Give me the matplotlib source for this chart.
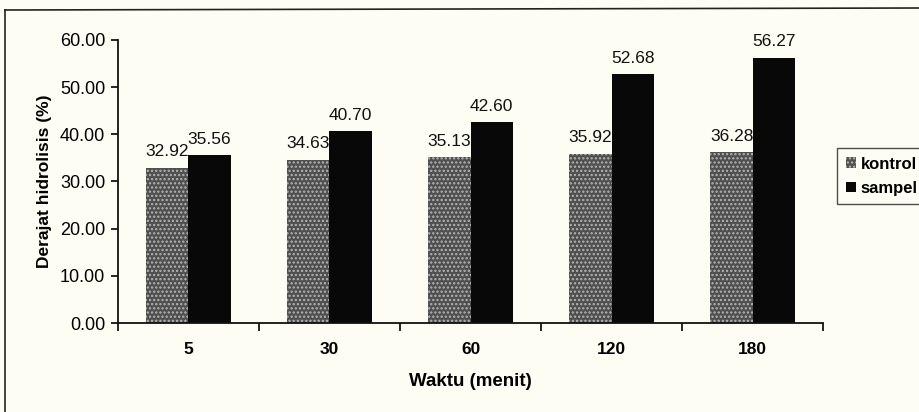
import matplotlib.pyplot as plt
import numpy as np
from matplotlib.lines import Line2D

plt.rcParams['font.family'] = ['Liberation Sans', 'DejaVu Sans']
plt.rcParams['hatch.linewidth'] = 1.1

waktu = ['5', '30', '60', '120', '180']
kontrol = [32.92, 34.63, 35.13, 35.92, 36.28]
sampel = [35.56, 40.70, 42.60, 52.68, 56.27]

bg = '#fdfdf3'
fig = plt.figure(figsize=(9.2, 4.12), dpi=100, facecolor=bg)
ax = fig.add_axes([0.128, 0.216, 0.767, 0.687])
ax.set_facecolor(bg)

x = np.arange(len(waktu))
w = 0.30
b1 = ax.bar(x - w / 2, kontrol, w, color='#4f4f4f', edgecolor='#b4b4b4',
            hatch='....', linewidth=0, label='kontrol')
b2 = ax.bar(x + w / 2, sampel, w, color='#080808', linewidth=0, label='sampel')

for bars, vals in ((b1, kontrol), (b2, sampel)):
    for r, v in zip(bars, vals):
        ax.annotate(f'{v:.2f}', (r.get_x() + r.get_width() / 2, v),
                    xytext=(0, 6), textcoords='offset points',
                    ha='center', va='bottom', fontsize=12.5, color='#111111')

ax.set_ylim(0, 60)
ax.set_xlim(-0.5, len(waktu) - 0.5)
ax.set_yticks(np.arange(0, 61, 10))
ax.set_yticklabels([f'{t:.2f}' for t in np.arange(0, 61, 10)], fontsize=13)
ax.set_xticks(np.arange(-0.5, len(waktu)), labels=[''] * (len(waktu) + 1))
ax.set_xticks(x, labels=waktu, minor=True)
ax.tick_params(axis='x', which='major', length=6, width=1.2, direction='out')
ax.tick_params(axis='x', which='minor', length=0, pad=14, labelsize=12.5)
ax.tick_params(axis='y', length=5, width=1.2, direction='out', pad=4)
for t in ax.get_xticklabels(minor=True):
    t.set_fontweight('bold')

for s in ('top', 'right'):
    ax.spines[s].set_visible(False)
for s in ('left', 'bottom'):
    ax.spines[s].set_linewidth(1.3)
    ax.spines[s].set_color('#111111')

ax.set_ylabel('Derajat hidrolisis (%)', fontsize=12.5, fontweight='bold', labelpad=6)
ax.set_xlabel('Waktu (menit)', fontsize=13.5, fontweight='bold', labelpad=11)

leg = fig.legend(handles=[b1, b2], loc='upper left', bbox_to_anchor=(0.910, 0.64),
                 frameon=True, fancybox=False, edgecolor='#222222', facecolor=bg,
                 prop={'size': 12, 'weight': 'bold'}, handlelength=0.6,
                 handleheight=0.6, handletextpad=0.3, borderpad=0.5,
                 labelspacing=0.55, borderaxespad=0)
leg.get_frame().set_linewidth(1.0)

# outer chart border (left and top edges)
fig.add_artist(Line2D([5 / 920, 5 / 920], [0, 1 - 10 / 412],
                      transform=fig.transFigure, color='#222222', lw=1.2))
fig.add_artist(Line2D([5 / 920, 1], [1 - 10 / 412, 1 - 8 / 412],
                      transform=fig.transFigure, color='#222222', lw=1.2))

fig.savefig('out.png', dpi=100, facecolor=bg)
